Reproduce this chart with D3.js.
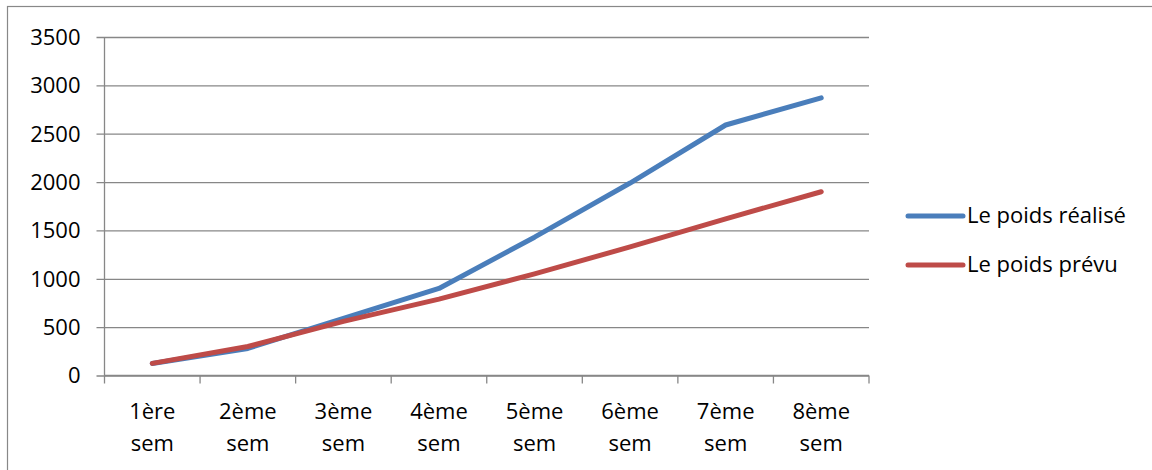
<!DOCTYPE html>
<html>
<head>
<meta charset="utf-8">
<script src="https://cdn.jsdelivr.net/npm/d3@7"></script>
<style>
  html, body { margin: 0; padding: 0; background: #fff; }
  svg text { font-family: "Open Sans", "Noto Sans", sans-serif; fill: #000; }
</style>
</head>
<body>
<svg id="chart" width="1152" height="470"></svg>
<script>
const categories = ["1ère sem", "2ème sem", "3ème sem", "4ème sem", "5ème sem", "6ème sem", "7ème sem", "8ème sem"];
const realise = [125, 280, 590, 900, 1430, 1990, 2590, 2870];
const prevu   = [125, 300, 560, 790, 1050, 1330, 1620, 1900];
const yTicks  = [0, 500, 1000, 1500, 2000, 2500, 3000, 3500];
const seriesNames = ["Le poids réalisé", "Le poids prévu"];
const seriesColors = ["#4A7EBB", "#BE4B48"];

const svg = d3.select("#chart");
const W = 1152, H = 470;
const plot = { left: 104.5, right: 869, top: 37, bottom: 375.5 };

// outer frame (extends beyond the visible area to the right and bottom)
svg.append("rect")
  .attr("x", 7.5).attr("y", 6.5)
  .attr("width", W + 20).attr("height", H + 20)
  .attr("fill", "none").attr("stroke", "#888").attr("stroke-width", 1.2);

const x = d3.scaleBand().domain(categories).range([plot.left, plot.right]);
const y = d3.scaleLinear().domain([0, 3500]).range([plot.bottom, plot.top]);
const cx = c => x(c) + x.bandwidth() / 2;

// gridlines + left ticks
const yAxis = d3.axisLeft(y).tickValues(yTicks).tickSize(8).tickFormat(d3.format("d"));
const gy = svg.append("g").attr("transform", `translate(${plot.left},0)`).call(yAxis);
gy.select(".domain").attr("stroke", "#878787").attr("stroke-width", 1.3)
  .attr("d", `M0,${plot.top}V${plot.bottom}`);
gy.selectAll(".tick line").attr("stroke", "#878787").attr("stroke-width", 1.3)
  .attr("x1", -8).attr("x2", plot.right - plot.left);
gy.selectAll(".tick text")
  .attr("x", -24).attr("dy", "0.34em")
  .style("font-size", "22px").style("font-family", "'Open Sans', sans-serif").attr("fill", "#000");

// x axis
const xAxis = d3.axisBottom(x).tickSize(0).tickFormat("");
const gx = svg.append("g").attr("transform", `translate(0,${plot.bottom})`).call(xAxis);
gx.select(".domain").attr("stroke", "#878787").attr("stroke-width", 1.3)
  .attr("d", `M${plot.left},0H${plot.right}`);
// tick marks at category boundaries
const bounds = categories.map(c => x(c)).concat([plot.right]);
gx.selectAll(".bound").data(bounds).enter().append("line")
  .attr("x1", d => d).attr("x2", d => d).attr("y1", 0).attr("y2", 8)
  .attr("stroke", "#878787").attr("stroke-width", 1.3);
// two-line category labels
const labels = gx.selectAll(".lbl").data(categories).enter().append("text")
  .attr("text-anchor", "middle")
  .attr("transform", d => `translate(${cx(d)},0)`)
  .style("font-size", "22px");
labels.append("tspan").attr("x", 0).attr("y", 43).text(d => d.split(" ")[0]);
labels.append("tspan").attr("x", 0).attr("y", 75).text(d => d.split(" ")[1]);

// lines
const line = d3.line().x((d, i) => cx(categories[i])).y(d => y(d));
[realise, prevu].forEach((vals, k) => {
  svg.append("path").datum(vals)
    .attr("d", line)
    .attr("fill", "none")
    .attr("stroke", seriesColors[k])
    .attr("stroke-width", 5)
    .attr("stroke-linecap", "round")
    .attr("stroke-linejoin", "round");
});

// legend
const legend = svg.append("g").attr("transform", "translate(908,216)");
seriesNames.forEach((name, k) => {
  const g = legend.append("g").attr("transform", `translate(0,${k * 49})`);
  g.append("line").attr("x1", 0).attr("x2", 55).attr("y1", 0).attr("y2", 0)
    .attr("stroke", seriesColors[k]).attr("stroke-width", 5).attr("stroke-linecap", "round");
  g.append("text").attr("x", 59).attr("y", 0).attr("dy", "0.34em")
    .style("font-size", "22px").text(name);
});
</script>
</body>
</html>
